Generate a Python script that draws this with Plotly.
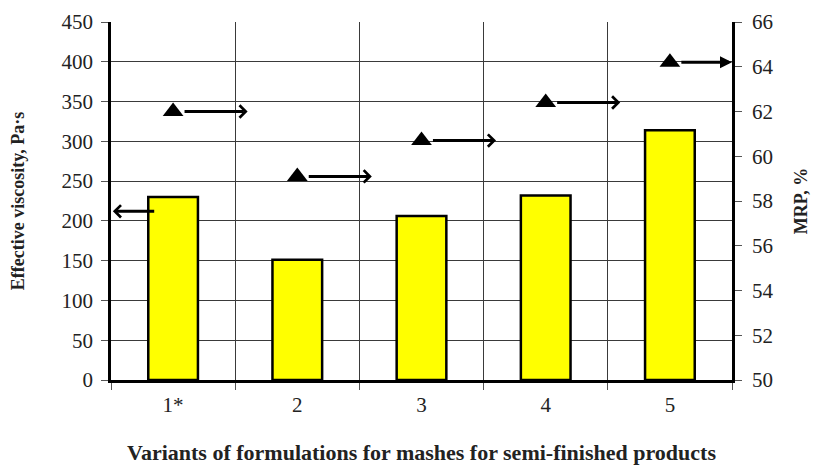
import plotly.graph_objects as go

categories = ["1*", "2", "3", "4", "5"]
viscosity = [230, 151, 206, 232, 314]        # Effective viscosity, Pa·s (left axis)
mrp = [62.0, 59.1, 60.7, 62.4, 64.2]         # MRP, % (right axis)

FONT = '"Liberation Serif", "Times New Roman", Times, serif'
GRID = "#3a3a3a"
TXT = "#222"

fig = go.Figure()
fig.add_trace(go.Bar(
    x=categories, y=viscosity, width=0.4,
    marker=dict(color="#FFFF00", line=dict(color="black", width=2.5)),
    yaxis="y", showlegend=False,
))
fig.add_trace(go.Scatter(
    x=categories, y=mrp, mode="markers",
    marker=dict(symbol="triangle-up", size=18, color="black"),
    yaxis="y2", showlegend=False,
))

annotations = []
n = len(categories)
for i, v in enumerate(mrp):
    head = min(i + 0.6, n - 0.5)
    annotations.append(dict(
        x=head, y=v, xref="x", yref="y2",
        ax=i + 0.08, ay=v, axref="x", ayref="y2",
        showarrow=True, text="",
        arrowhead=2 if i == n - 1 else 4,
        arrowsize=0.8,
        arrowwidth=3, arrowcolor="black",
    ))
# arrow pointing to left axis for the bars
annotations.append(dict(
    x=-0.485, y=212, xref="x", yref="y",
    ax=-0.14, ay=212, axref="x", ayref="y",
    showarrow=True, text="", arrowhead=4, arrowsize=0.8,
    arrowwidth=3, arrowcolor="black",
))

fig.update_layout(
    width=812, height=457,
    margin=dict(l=103, r=88, t=14, b=85),
    paper_bgcolor="white", plot_bgcolor="white",
    font=dict(family=FONT, size=21, color=TXT),
    bargap=0.6,
    annotations=annotations,
    xaxis=dict(
        type="category", range=[-0.5, n - 0.5],
        tickson="boundaries", showgrid=True, gridcolor=GRID, gridwidth=1,
        ticks="outside", ticklen=7, tickcolor="#555", tickwidth=1,
        showline=True, linecolor="black", linewidth=2.5,
        tickfont=dict(family=FONT, size=21, color=TXT), ticklabelstandoff=4,
        title=dict(text="<b>Variants of formulations for mashes for semi-finished products</b>",
                   font=dict(family=FONT, size=22, color=TXT), standoff=31),
        automargin=False,
    ),
    yaxis=dict(
        range=[0, 450], dtick=50, showgrid=True, gridcolor=GRID, gridwidth=1,
        ticks="outside", ticklen=7, tickcolor="#555", tickwidth=1,
        showline=True, linecolor="black", linewidth=2.5, zeroline=False,
        tickfont=dict(family=FONT, size=21, color=TXT), ticklabelstandoff=4,
        title=dict(text="<b>Effective viscosity, Pa·s</b>",
                   font=dict(family=FONT, size=18, color=TXT), standoff=36),
        automargin=False,
    ),
    yaxis2=dict(
        range=[50, 66], dtick=2, overlaying="y", side="right", showgrid=False,
        ticks="outside", ticklen=7, tickcolor="#555", tickwidth=1,
        showline=True, linecolor="black", linewidth=2.5, zeroline=False,
        tickfont=dict(family=FONT, size=21, color=TXT), ticklabelstandoff=6,
        title=dict(text="<b>MRP, %</b>",
                   font=dict(family=FONT, size=18, color=TXT), standoff=22),
        automargin=False,
    ),
)

fig.write_html("out.html")
